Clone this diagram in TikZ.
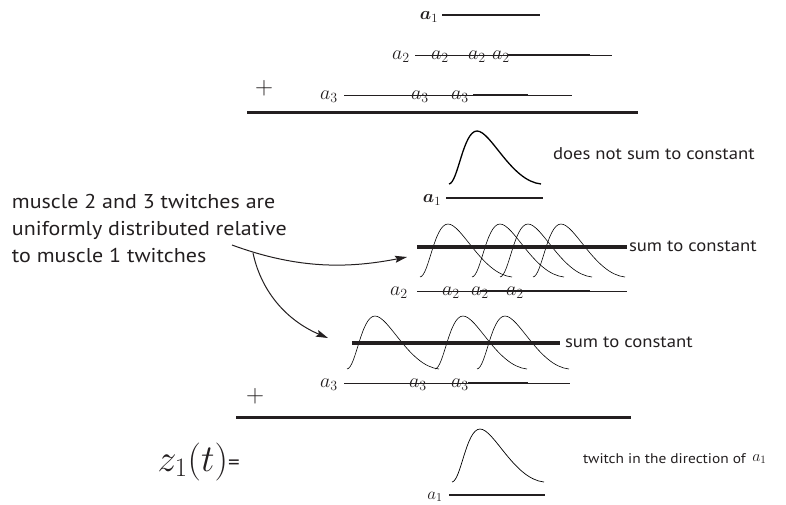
\RequirePackage{fix-cm}
\documentclass[tikz,border=0pt]{standalone}
\usepackage{amsmath}
\usepackage{fontspec}
\setmainfont{PT Sans}[FakeStretch=1.1]
\usetikzlibrary{arrows.meta}
\definecolor{ink}{RGB}{35,31,32}
\begin{document}
\begin{tikzpicture}[x=1pt,y=-1pt,
  every node/.style={inner sep=0pt,outer sep=0pt,text=ink},
  mlbl/.style={anchor=base,font=\fontsize{20}{22}\selectfont},
  blbl/.style={anchor=base,font=\fontsize{18}{20}\selectfont},
  slbl/.style={anchor=base,font=\fontsize{17}{19}\selectfont},
  txt/.style={anchor=base west,font=\fontsize{20}{27}\selectfont},
  note/.style={anchor=base west,font=\fontsize{17}{20}\selectfont},
  plus/.style={font=\fontsize{25}{27}\selectfont},
  base/.style={draw=ink,line width=0.8pt},
  dark/.style={draw=ink,line width=1.4pt},
  bar/.style={draw=ink,line width=4pt},
  sumbar/.style={draw=ink,line width=3pt},
  twitch/.pic={\draw (0,0) .. controls (9,-1) and (14,-53) .. (28,-53) .. controls (42,-53) and (62,-3) .. (92,0);},
  conn/.style={draw=ink,line width=1pt,-{Stealth[length=12pt,width=7pt,inset=2pt]}}
]
\useasboundingbox (0,0) rectangle (786,504);

% ---- top: sum of rows ----
\node[blbl] (t1) at (429,19.5) {$\boldsymbol{a}_1$};
\draw[draw=ink,line width=2pt] (442,15) -- (540,15);

\node[mlbl] (t2m) at (401,59.5) {$a_2$};
\draw[base] (415,55) -- (612,55);
\draw[dark] (508,55) -- (590,55);
\node[mlbl] (t2a) at (440,59.5) {$a_2$};
\node[mlbl] (t2b) at (477,59.5) {$a_2$};
\node[mlbl] (t2c) at (501,59.5) {$a_2$};

\node[plus] (p1) at (264,88) {$+$};
\node[mlbl] (t3m) at (329,99.5) {$a_3$};
\draw[base] (344,95) -- (572,95);
\draw[dark] (473,95) -- (528,95);
\node[mlbl] (t3a) at (420,99.5) {$a_3$};
\node[mlbl] (t3b) at (460,99.5) {$a_3$};

\draw[sumbar] (247,112) -- (638,112);

% ---- muscle 1 twitch ----
\pic[line width=1.3pt] at (449,184) {twitch};
\node[blbl] (m1) at (432,202.5) {$\boldsymbol{a}_1$};
\draw[draw=ink,line width=2pt] (446,198) -- (543,198);
\node[note] (n1) at (553,159.5) {does not sum to constant};

% ---- muscle 2 twitches ----
\pic[line width=0.6pt] at (420,277) {twitch};
\pic[line width=0.6pt] at (472,277) {twitch};
\pic[line width=0.6pt] at (500,277) {twitch};
\pic[line width=0.6pt] at (533,277) {twitch};
\draw[bar] (417,247) -- (627,247);
\node[note] (n2) at (629,251.5) {sum to constant};
\node[mlbl] (b2m) at (399,295.5) {$a_2$};
\draw[base] (417,291) -- (627,291);
\draw[dark] (480,291) -- (590,291);
\node[mlbl] (b2a) at (451,295.5) {$a_2$};
\node[mlbl] (b2b) at (480,295.5) {$a_2$};
\node[mlbl] (b2c) at (515,295.5) {$a_2$};

% ---- muscle 3 twitches ----
\pic[line width=0.6pt] at (347,369) {twitch};
\pic[line width=0.6pt] at (435,369) {twitch};
\pic[line width=0.6pt] at (477,369) {twitch};
\draw[bar] (352,343) -- (560,343);
\node[note] (n3) at (565,347.5) {sum to constant};
\node[mlbl] (b3m) at (329,387.5) {$a_3$};
\draw[base] (344,383) -- (570,383);
\draw[dark] (468,383) -- (528,383);
\node[mlbl] (b3a) at (418,387.5) {$a_3$};
\node[mlbl] (b3b) at (460,387.5) {$a_3$};

\node[plus] (p2) at (255,396) {$+$};
\draw[sumbar] (236,417) -- (631,417);

% ---- result ----
\node[anchor=base east,font=\fontsize{38}{40}\selectfont] (z) at (228,471) {$z_1(t)$};
\node[anchor=base west,font=\fontsize{21}{24}\selectfont] (eq) at (228,469) {=};
\pic[line width=0.7pt] at (452,482) {twitch};
\node[slbl] (r1) at (435,499) {$a_1$};
\draw[draw=ink,line width=1.2pt] (449,495) -- (545,495);
\node[anchor=base west,font=\fontsize{14}{16}\selectfont] (n4) at (583,463) {twitch in the direction of \,\raisebox{2pt}{\fontsize{16}{18}\selectfont$a_1$}};

% ---- left note and arrows ----
\node[txt] (l1) at (12,208) {muscle 2 and 3 twitches are};
\node[txt] (l2) at (12,235) {uniformly distributed relative};
\node[txt] (l3) at (12,262) {to muscle 1 twitches};
\coordinate (src) at (232,245);
\coordinate (split) at (253,253);
\coordinate (tgt2) at (407,257);
\coordinate (tgt3) at (328,338);
\draw[conn] (src) .. controls (300,270) and (350,268) .. (tgt2);
\draw[conn] (split) .. controls (262,295) and (290,322) .. (tgt3);
\end{tikzpicture}
\end{document}
